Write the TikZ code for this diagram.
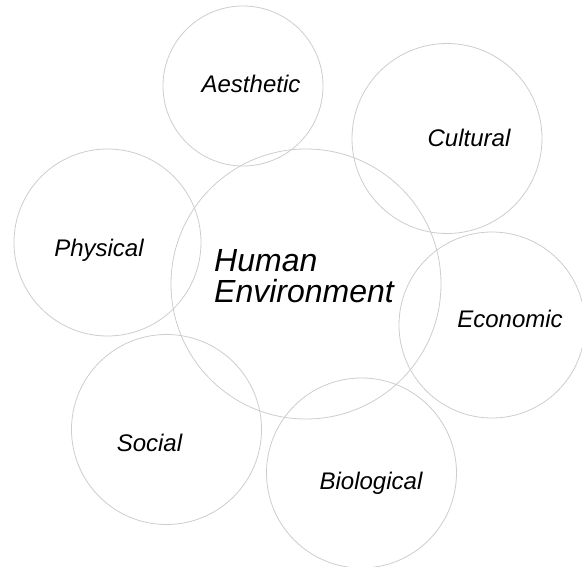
\documentclass[tikz,border=0pt]{standalone}
\usepackage{fontspec}
\setmainfont{Liberation Sans}
\definecolor{ringgray}{RGB}{205,205,205}
\tikzset{
  ring/.style={circle, draw=ringgray, line width=0.8pt, inner sep=0pt, minimum size=#1},
  lbl/.style={anchor=base, font=\fontsize{24}{28}\selectfont\itshape, inner sep=0pt},
  bigl/.style={anchor=base west, font=\fontsize{32}{31}\selectfont\itshape, inner sep=0pt}
}
\begin{document}
\begin{tikzpicture}[x=1pt,y=-1pt]
\useasboundingbox (0,0) rectangle (582,567);
\clip (0,0) rectangle (582,567);
\node[ring=270pt] (center) at (306,284) {};
\node[ring=160pt] (aes) at (243,86) {};
\node[ring=190pt] (cul) at (447,138.5) {};
\node[ring=187pt] (phy) at (107.5,242.5) {};
\node[ring=186pt] (eco) at (492,325) {};
\node[ring=190pt] (soc) at (166.5,429.5) {};
\node[ring=190pt] (bio) at (361.5,473) {};
\node[lbl] (taes) at (251,93) {Aesthetic};
\node[lbl] (tcul) at (469,146.5) {Cultural};
\node[lbl] (tphy) at (99,256.5) {Physical};
\node[lbl] (teco) at (510,327.5) {Economic};
\node[lbl] (tsoc) at (149.5,451.5) {Social};
\node[lbl] (tbio) at (371,489.5) {Biological};
\node[bigl] (thum) at (214,272) {Human};
\node[bigl] (tenv) at (214,303) {Environment};
\end{tikzpicture}
\end{document}
